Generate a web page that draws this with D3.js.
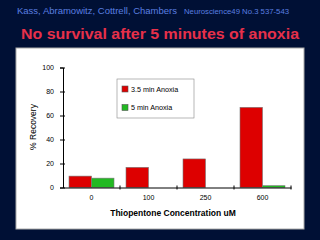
<!DOCTYPE html>
<html lang="en">
<head>
<meta charset="UTF-8">
<title>Thiopentone recovery</title>
<script src="https://d3js.org/d3.v7.min.js"></script>
<style>
    body { margin: 0; background: #001035; }
    svg { display: block; }
    text { font-family: "Liberation Sans", Arial, sans-serif; }
</style>
</head>
<body>
<div id="chart"></div>
<script>
const concentrations = ["0", "100", "250", "600"];
const seriesNames = ["3.5 min Anoxia", "5 min Anoxia"];
const anoxia35 = [9.5, 16.8, 23.8, 66.8];
const anoxia5 = [7.8, 0, 0, 1.5];
const yTicks = [0, 20, 40, 60, 80, 100];
const colors = ["#dd0000", "#22b922"];

const W = 320, H = 240;
const svg = d3.select("#chart").append("svg")
    .attr("width", W).attr("height", H);

svg.append("rect").attr("width", W).attr("height", H).attr("fill", "#001035");

// header
svg.append("text").attr("x", 17).attr("y", 14)
    .attr("font-size", 9.5).attr("fill", "#5a7fe0")
    .attr("textLength", 160).attr("lengthAdjust", "spacingAndGlyphs")
    .text("Kass, Abramowitz, Cottrell, Chambers");
svg.append("text").attr("x", 184).attr("y", 14)
    .attr("font-size", 6.3).attr("fill", "#5a7fe0")
    .attr("textLength", 105).attr("lengthAdjust", "spacingAndGlyphs")
    .text("Neuroscience49 No.3 537-543");
svg.append("text").attr("x", 21).attr("y", 39)
    .attr("font-size", 15.5).attr("font-weight", "bold").attr("fill", "#e8304a")
    .attr("textLength", 278).attr("lengthAdjust", "spacingAndGlyphs")
    .text("No survival after 5 minutes of anoxia");

// white panel
svg.append("rect").attr("x", 16).attr("y", 48).attr("width", 288).attr("height", 181)
    .attr("fill", "#fff").attr("stroke", "#aaa");

const x = d3.scaleBand().domain(concentrations).range([63, 291]);
const y = d3.scaleLinear().domain([0, 100]).range([187.5, 67.5]);

const data = concentrations.map((c, i) => ({ c, vals: [anoxia35[i], anoxia5[i]] }));
const inner = d3.scaleBand().domain([0, 1]).range([6, x.bandwidth() - 6]);

const g = svg.append("g");
data.forEach(d => {
    d.vals.forEach((v, j) => {
        g.append("rect")
            .attr("x", x(d.c) + inner(j))
            .attr("y", y(v))
            .attr("width", inner.bandwidth())
            .attr("height", y(0) - y(v))
            .attr("fill", colors[j])
            .attr("stroke", "#777").attr("stroke-width", 0.6);
    });
});

// y axis
const yAxis = svg.append("g").attr("transform", "translate(63,0)")
    .call(d3.axisLeft(y).tickValues(yTicks).tickSize(3).tickPadding(6));
yAxis.select(".domain").attr("stroke", "#000").attr("stroke-width", 1);
yAxis.selectAll(".tick line").attr("x2", 2).attr("x1", -3);
yAxis.selectAll(".tick text").attr("font-size", 7).attr("font-family", "Liberation Sans, Arial, sans-serif");

// x axis
const xAxis = svg.append("g").attr("transform", `translate(0,${y(0)})`)
    .call(d3.axisBottom(x).tickSize(0).tickPadding(8));
xAxis.select(".domain").attr("stroke", "#000");
xAxis.selectAll(".tick text").attr("font-size", 7).attr("font-family", "Liberation Sans, Arial, sans-serif");
svg.append("g").selectAll("line")
    .data(concentrations.slice(1).map(c => x(c)).concat([x.range()[1]]))
    .join("line")
    .attr("x1", d => d).attr("x2", d => d)
    .attr("y1", y(0) - 2).attr("y2", y(0) + 2)
    .attr("stroke", "#000");

// axis titles
svg.append("text").attr("transform", "translate(36,127) rotate(-90)")
    .attr("text-anchor", "middle").attr("font-size", 8.5).text("% Recovery");
svg.append("text").attr("x", 173).attr("y", 216)
    .attr("text-anchor", "middle").attr("font-size", 8.5).attr("font-weight", "bold")
    .text("Thiopentone Concentration uM");

// legend
const lg = svg.append("g").attr("transform", "translate(117,79)");
lg.append("rect").attr("width", 77).attr("height", 39)
    .attr("fill", "#fff").attr("stroke", "#888").attr("stroke-width", 0.6);
seriesNames.forEach((n, i) => {
    lg.append("rect").attr("x", 5).attr("y", 7 + i * 18.5).attr("width", 6).attr("height", 6)
        .attr("fill", colors[i]).attr("stroke", "#555").attr("stroke-width", 0.6);
    lg.append("text").attr("x", 14).attr("y", 12.5 + i * 18.5)
        .attr("font-size", 7.2).text(n);
});
</script>
</body>
</html>
